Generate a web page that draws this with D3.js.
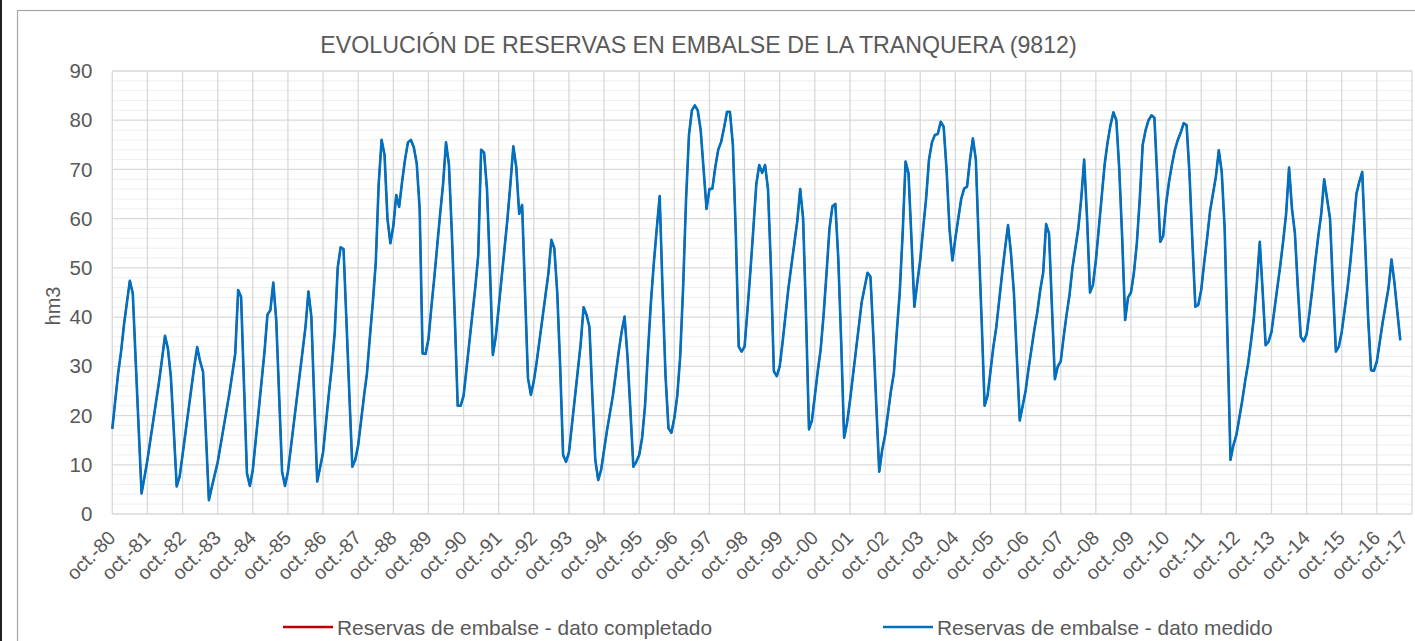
<!DOCTYPE html>
<html><head><meta charset="utf-8">
<script src="https://cdn.jsdelivr.net/npm/d3@7"></script>
<style>
body{margin:0;background:#fff;}
svg{display:block;font-family:"Liberation Sans",Arial,sans-serif;}
</style>
</head><body>
<svg id="chart" width="1415" height="641"></svg>
<script>
const titleText = "EVOLUCIÓN DE RESERVAS EN EMBALSE DE LA TRANQUERA (9812)";
const yAxisTitle = "hm3";
const seriesNames = ["Reservas de embalse - dato completado", "Reservas de embalse - dato medido"];
const tickLabels = ["oct.-80","oct.-81","oct.-82","oct.-83","oct.-84","oct.-85","oct.-86","oct.-87","oct.-88","oct.-89",
  "oct.-90","oct.-91","oct.-92","oct.-93","oct.-94","oct.-95","oct.-96","oct.-97","oct.-98","oct.-99",
  "oct.-00","oct.-01","oct.-02","oct.-03","oct.-04","oct.-05","oct.-06","oct.-07","oct.-08","oct.-09",
  "oct.-10","oct.-11","oct.-12","oct.-13","oct.-14","oct.-15","oct.-16","oct.-17"];
const yTicks = [0,10,20,30,40,50,60,70,80,90];
// monthly reserves (hm3), starting oct-1980
const datoMedido = [
  17.3, 23, 28.6, 33, 38.5, 43, 47.4, 44.8, 31, 17.5, 4.2, 7.5,
  11, 15, 19, 23, 27, 31.5, 36.2, 33.6, 27.9, 17, 5.6, 7.6,
  12, 16.5, 21, 25.5, 30, 33.9, 31, 28.9, 16, 2.8, 5.5, 8,
  10.5, 14, 17.5, 21, 24.5, 28.5, 32.6, 45.5, 44.1, 26, 8.3, 5.7,
  9, 15, 21, 27, 33, 40.5, 41.4, 47, 39.4, 24, 8.6, 5.7,
  8.6, 13.5, 18.4, 23.3, 28.2, 33.1, 38, 45.2, 40.1, 23, 6.6, 9.5,
  12.5, 18.5, 24.5, 30, 37, 50, 54.2, 53.8, 39, 24, 9.6, 11,
  14, 19, 24, 28.6, 36, 43, 51, 67, 76, 73, 60, 55,
  58.5, 64.8, 62.4, 67.5, 72, 75.5, 76, 74.5, 71.2, 62, 32.6, 32.5,
  35.5, 42, 48, 54.5, 61, 67, 75.5, 71, 57, 40, 22, 22,
  24, 29.5, 35, 40.5, 46, 52.5, 74, 73.4, 66, 50, 32.3, 36,
  42, 48, 54, 60, 67, 74.7, 70.5, 61, 62.8, 45, 27.6, 24.2,
  27, 31, 35.5, 40, 44.5, 49, 55.7, 54, 45, 30, 12, 10.6,
  12.5, 18, 23.5, 29, 34.5, 42, 40.5, 38, 24, 11, 6.9, 9,
  13, 17, 20.5, 24, 28.5, 33, 37, 40.1, 32, 21, 9.6, 10.6,
  12, 15.5, 22, 33, 43, 51, 58, 64.6, 45, 28, 17.4, 16.5,
  19.5, 24, 32, 46, 63.8, 77, 82, 83, 82, 78, 70, 62,
  66, 66.1, 70.5, 74, 75.6, 78.5, 81.7, 81.7, 75, 57, 34, 33,
  34, 41.5, 49.5, 58, 67, 70.9, 69.3, 70.9, 66, 50, 29, 28,
  30, 35, 40.5, 46, 50.5, 55, 59.5, 66, 60, 40, 17.2, 19,
  24, 29, 33.5, 40.5, 49, 58, 62.5, 63, 52, 35, 15.5, 18.5,
  23, 28, 33, 38, 43, 46, 49, 48.2, 36, 22, 8.6, 13,
  16, 20.5, 25, 28.6, 37, 45, 57, 71.6, 69.2, 56, 42.1, 47,
  51.6, 58, 64, 72, 75.5, 77, 77.2, 79.7, 78.7, 70, 58, 51.5,
  56, 60, 64, 66.1, 66.5, 72, 76.3, 72, 55, 39, 22, 24,
  29, 34, 38, 43.5, 49, 54, 58.7, 53, 45, 32, 19, 22,
  25, 29.5, 33.5, 37.5, 41, 45.5, 49, 58.9, 57, 42, 27.4, 30,
  31, 36, 40.5, 44.5, 50, 54, 58, 64, 72, 60, 45, 46.5,
  51.5, 58, 64.5, 71, 75.5, 79, 81.6, 80, 70, 56, 39.4, 44,
  45, 49, 55, 64, 75, 78, 80, 81, 80.5, 68, 55.3, 56.5,
  63, 67.5, 71, 74, 76, 77.5, 79.4, 79, 69, 55, 42.1, 42.5,
  45.5, 51, 56, 61.5, 65, 68.5, 73.9, 69.5, 58, 35, 11, 14,
  16, 19.5, 23, 27, 30.5, 35, 40, 47, 55.3, 45, 34.3, 35,
  37, 41.5, 46, 50.5, 55.5, 61, 70.4, 62, 57, 46, 36, 35.1,
  36.5, 41, 46, 51.5, 56.5, 61, 68, 64, 60, 46, 33, 34,
  37, 41.5, 46, 51.5, 58, 65, 67.5, 69.5, 55, 40, 29.2, 29.1,
  31, 35, 39, 42.5, 46, 51.7, 47, 41, 35.3
];

const W = 1415, H = 641;
const svg = d3.select("#chart");
const plot = {left: 112.3, right: 1412, top: 71, bottom: 514};
const x = d3.scaleLinear().domain([0, 12 * (tickLabels.length - 1)]).range([plot.left, plot.right]);
const y = d3.scaleLinear().domain([0, 90]).range([plot.bottom, plot.top]);

// chart frame
svg.append("rect").attr("x", 0).attr("y", 0).attr("width", W).attr("height", H).attr("fill", "#fff");
svg.append("rect").attr("x", 17.5).attr("y", 10.5).attr("width", W + 20).attr("height", H + 20)
  .attr("fill", "none").attr("stroke", "#a6a6a6").attr("stroke-width", 1.2);
svg.append("rect").attr("x", 0).attr("y", 0).attr("width", 2).attr("height", H).attr("fill", "#222");

// minor horizontal grid
const minor = d3.range(0, 91, 2).filter(v => v % 10 !== 0);
svg.append("g").selectAll("line").data(minor).join("line")
  .attr("x1", plot.left).attr("x2", plot.right)
  .attr("y1", d => y(d)).attr("y2", d => y(d))
  .attr("stroke", "#eeeeee").attr("stroke-width", 1);
// vertical grid
const xTickVals = tickLabels.map((_, i) => i * 12);
svg.append("g").selectAll("line").data(xTickVals).join("line")
  .attr("x1", d => x(d)).attr("x2", d => x(d))
  .attr("y1", plot.top).attr("y2", plot.bottom)
  .attr("stroke", "#d9d9d9").attr("stroke-width", 1.3);
// major horizontal grid
svg.append("g").selectAll("line").data(yTicks).join("line")
  .attr("x1", plot.left).attr("x2", plot.right)
  .attr("y1", d => y(d)).attr("y2", d => y(d))
  .attr("stroke", "#d9d9d9").attr("stroke-width", 1.3);

// y axis labels
const yAxis = d3.axisLeft(y).tickValues(yTicks).tickSize(0).tickPadding(20);
const gy = svg.append("g").attr("transform", `translate(${plot.left},0)`).call(yAxis);
gy.select(".domain").remove();
gy.selectAll("text").attr("fill", "#595959").style("font-size", "20.5px")
  .attr("font-family", "Liberation Sans, Arial, sans-serif");

// x axis labels
const xAxis = d3.axisBottom(x).tickValues(xTickVals).tickSize(0).tickFormat((d, i) => tickLabels[i]);
const gx = svg.append("g").attr("transform", `translate(0,${plot.bottom})`).call(xAxis);
gx.select(".domain").remove();
gx.selectAll(".tick").each(function(d) {
  const px = x(d);
  const shift = Math.min(4, W - 6 - px);
  d3.select(this).select("text")
    .attr("fill", "#595959").style("font-size", "19.5px")
    .attr("font-family", "Liberation Sans, Arial, sans-serif")
    .attr("text-anchor", "end")
    .attr("dy", "0")
    .attr("y", 0)
    .attr("transform", `translate(${shift},25) rotate(-45)`);
});

// axis title
svg.append("text").attr("transform", "translate(60,306) rotate(-90)")
  .attr("text-anchor", "middle").attr("fill", "#595959").style("font-size", "20px").text(yAxisTitle);

// title
svg.append("text").attr("x", 698.5).attr("y", 52.5).attr("text-anchor", "middle")
  .attr("fill", "#595959").style("font-size", "23.2px").text(titleText);

// lines
const line = d3.line().x((d, i) => x(i)).y(d => y(d));
svg.append("path").datum(datoMedido).attr("d", line)
  .attr("fill", "none").attr("stroke", "#c00000").attr("stroke-width", 1.8)
  .attr("stroke-linejoin", "round");
svg.append("path").datum(datoMedido).attr("d", line)
  .attr("fill", "none").attr("stroke", "#0070c0").attr("stroke-width", 2.6)
  .attr("stroke-linejoin", "round");

// legend
const legendColors = ["#c00000", "#0070c0"];
const legendX = [283, 883];
const lg = svg.append("g").selectAll("g").data(seriesNames).join("g")
  .attr("transform", (d, i) => `translate(${legendX[i]},627)`);
lg.append("line").attr("x1", 0).attr("x2", 50).attr("y1", 0).attr("y2", 0)
  .attr("stroke", (d, i) => legendColors[i]).attr("stroke-width", 2.6);
lg.append("text").attr("x", 54).attr("y", 7.5).attr("fill", "#595959").style("font-size", "20.9px").text(d => d);
</script>
</body></html>
